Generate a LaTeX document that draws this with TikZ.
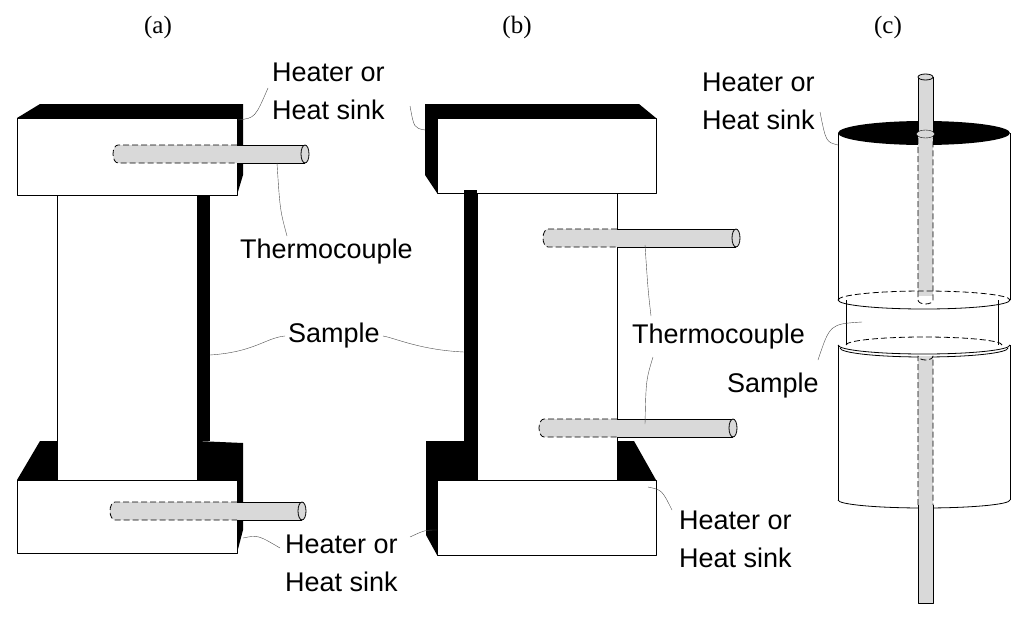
\documentclass[tikz,border=0pt]{standalone}
\usepackage{fontspec}
\usetikzlibrary{shapes.geometric}
\setmainfont{Liberation Sans}
\newfontfamily\seriffont{Liberation Serif}
\begin{document}
\begin{tikzpicture}[x=1pt,y=-1pt,line join=round,
  lbl/.style={font=\fontsize{27}{38}\selectfont,align=left,inner sep=0pt,anchor=west},
  ttl/.style={font=\seriffont\fontsize{25}{28}\selectfont,inner sep=0pt},
  lead/.style={draw=black!70,thin},
  blk/.style={fill=black},
  face/.style={draw=black,fill=white,thick},
  rod/.style={fill=black!15},
  hid/.style={draw=black,dash pattern=on 6pt off 3pt,thick}]
\useasboundingbox (0,0) rectangle (1024,618);
\newcommand{\tcx}[4]{% x1 x2 xe y
  \fill[rod] (#1+5,#4-9) -- (#2,#4-9) -- (#2,#4+9) -- (#1+5,#4+9) arc[start angle=90,end angle=270,x radius=5,y radius=9] -- cycle;
  \draw[hid] (#3,#4-9) -- (#1+5,#4-9) arc[start angle=270,end angle=90,x radius=5,y radius=9] -- (#3,#4+9);
  \draw[thick] (#3,#4-9) -- (#2,#4-9) (#3,#4+9) -- (#2,#4+9);
  \draw[thick,fill=black!15] (#2,#4) ellipse[x radius=4,y radius=9];}
% titles
\node[ttl] (ta) at (158,27) {(a)};
\node[ttl] (tb) at (517,27) {(b)};
\node[ttl] (tc) at (888,27) {(c)};
% ---------- (a)
\fill[blk] (17,118) -- (40,104) -- (243,104) -- (243,175) -- (237,195) -- (237,118) -- cycle;
\node[face,minimum width=220,minimum height=77,inner sep=0,anchor=north west] (atop) at (17,118) {};
\fill[blk] (197,195) rectangle (210,441);
\fill[blk] (17,480) -- (40,441) -- (57,441) -- (57,480) -- cycle;
\fill[blk] (197,441) -- (243,443) -- (243,530) -- (237,553) -- (237,480) -- (197,480) -- cycle;
\node[face,minimum width=140,minimum height=285,inner sep=0,anchor=north west] (asam) at (57,195) {};
\node[face,minimum width=220,minimum height=73,inner sep=0,anchor=north west] (abot) at (17,480) {};
\tcx{113}{305}{237}{154}
\tcx{110}{302}{237}{511}
\coordinate (atc) at (277,163);
% ---------- (b)
\fill[blk] (425,104) -- (639,104) -- (656,118) -- (437,118) -- (437,193) -- (425,175) -- cycle;
\node[face,minimum width=219,minimum height=75,inner sep=0,anchor=north west] (btop) at (437,118) {};
\fill[blk] (464,190) rectangle (477,441);
\fill[blk] (426,441) -- (477,441) -- (477,480) -- (437,480) -- (437,555) -- (426,535) -- cycle;
\fill[blk] (616,441) -- (634,441) -- (656,480) -- (616,480) -- cycle;
\node[face,minimum width=140,minimum height=287,inner sep=0,anchor=north west] (bsam) at (477,193) {};
\node[face,minimum width=219,minimum height=75,inner sep=0,anchor=north west] (bbot) at (437,480) {};
\tcx{543}{736}{617}{238}
\tcx{539}{733}{617}{428}
% ---------- (c)
\fill[white] (838,345) rectangle (1010,500);
\draw[thick] (838,345) -- (838,500) (1010,345) -- (1010,500);
\draw[thick] (838,500) arc[start angle=180,end angle=360,x radius=86,y radius=-8];
\fill[white] (846,300) rectangle (998,345);
\draw[thick] (846,300) -- (846,345) (998,300) -- (998,345);
\draw[thick] (838,345) arc[start angle=180,end angle=360,x radius=86,y radius=-9];
\draw[thick] (840,348) arc[start angle=180,end angle=360,x radius=84,y radius=-9];
\draw[thick] (838,133) -- (838,300) (1010,133) -- (1010,300);
\draw[thick] (838,300) arc[start angle=180,end angle=360,x radius=86,y radius=-9];
\node[fill=black,ellipse,minimum width=172,minimum height=24,inner sep=0] (ctop) at (924,133) {};
\fill[rod] (918,77) rectangle (933,296);
\draw[thick] (918,77) -- (918,133) (933,77) -- (933,133);
\draw[thick,fill=black!15] (925.5,77) ellipse[x radius=7.5,y radius=3];
\draw[fill=black!15] (925.5,134) ellipse[x radius=9,y radius=4];
\draw[hid] (918,138) -- (918,300) arc[start angle=180,end angle=360,x radius=7.5,y radius=-4] -- (933,138);
\fill[rod] (918,356) rectangle (933,603);
\draw[hid] (918,505) -- (918,356) arc[start angle=180,end angle=0,x radius=7.5,y radius=4] -- (933,505);
\draw[thick] (918,505) -- (918,603) -- (933,603) -- (933,505);
\draw[hid] (838,300) arc[start angle=180,end angle=0,x radius=86,y radius=-9];
\draw[hid] (846,345) arc[start angle=180,end angle=0,x radius=78,y radius=-8];
% ---------- labels
\node[lbl] (lh1) at (272,91) {Heater or\\Heat sink};
\node[lbl] (lt1) at (240,252) {Thermocouple};
\node[lbl] (ls1) at (288,336) {Sample};
\node[lbl] (lh2) at (285,563) {Heater or\\Heat sink};
\node[lbl] (lt2) at (632,337) {Thermocouple};
\node[lbl] (lh3) at (679,539) {Heater or\\Heat sink};
\node[lbl] (lh4) at (702,101) {Heater or\\Heat sink};
\node[lbl] (ls2) at (727,386) {Sample};
\coordinate (p1) at (238,120); \coordinate (p1e) at (268,88);
\draw[lead] (p1) .. controls (255,118) .. (p1e);
\coordinate (p2) at (425,130); \coordinate (p2e) at (410,106);
\draw[lead] (p2) .. controls (414,128) .. (p2e);
\draw[lead] (atc) .. controls (280,210) .. (287,236);
\coordinate (p3) at (210,355);
\draw[lead] (p3) .. controls (255,352) and (265,338) .. (285,336);
\coordinate (p4) at (464,352);
\draw[lead] (p4) .. controls (420,350) and (395,338) .. (383,336);
\coordinate (p5) at (243,538); \coordinate (p5e) at (280,548);
\draw[lead] (p5) .. controls (258,535) .. (p5e);
\coordinate (p6) at (437,530); \coordinate (p6e) at (410,537);
\draw[lead] (p6) .. controls (425,530) .. (p6e);
\coordinate (p7) at (645,245); \coordinate (p7e) at (651,316);
\draw[lead] (p7) .. controls (648,290) .. (p7e);
\coordinate (p8) at (645,424); \coordinate (p8e) at (653,357);
\draw[lead] (p8) .. controls (646,380) .. (p8e);
\coordinate (p9) at (648,487); \coordinate (p9e) at (672,510);
\draw[lead] (p9) .. controls (662,490) .. (p9e);
\coordinate (p10) at (838,145); \coordinate (p10e) at (820,112);
\draw[lead] (p10) .. controls (826,142) .. (p10e);
\coordinate (p11) at (862,322); \coordinate (p11e) at (818,360);
\draw[lead] (p11) .. controls (830,324) .. (p11e);
\end{tikzpicture}
\end{document}
